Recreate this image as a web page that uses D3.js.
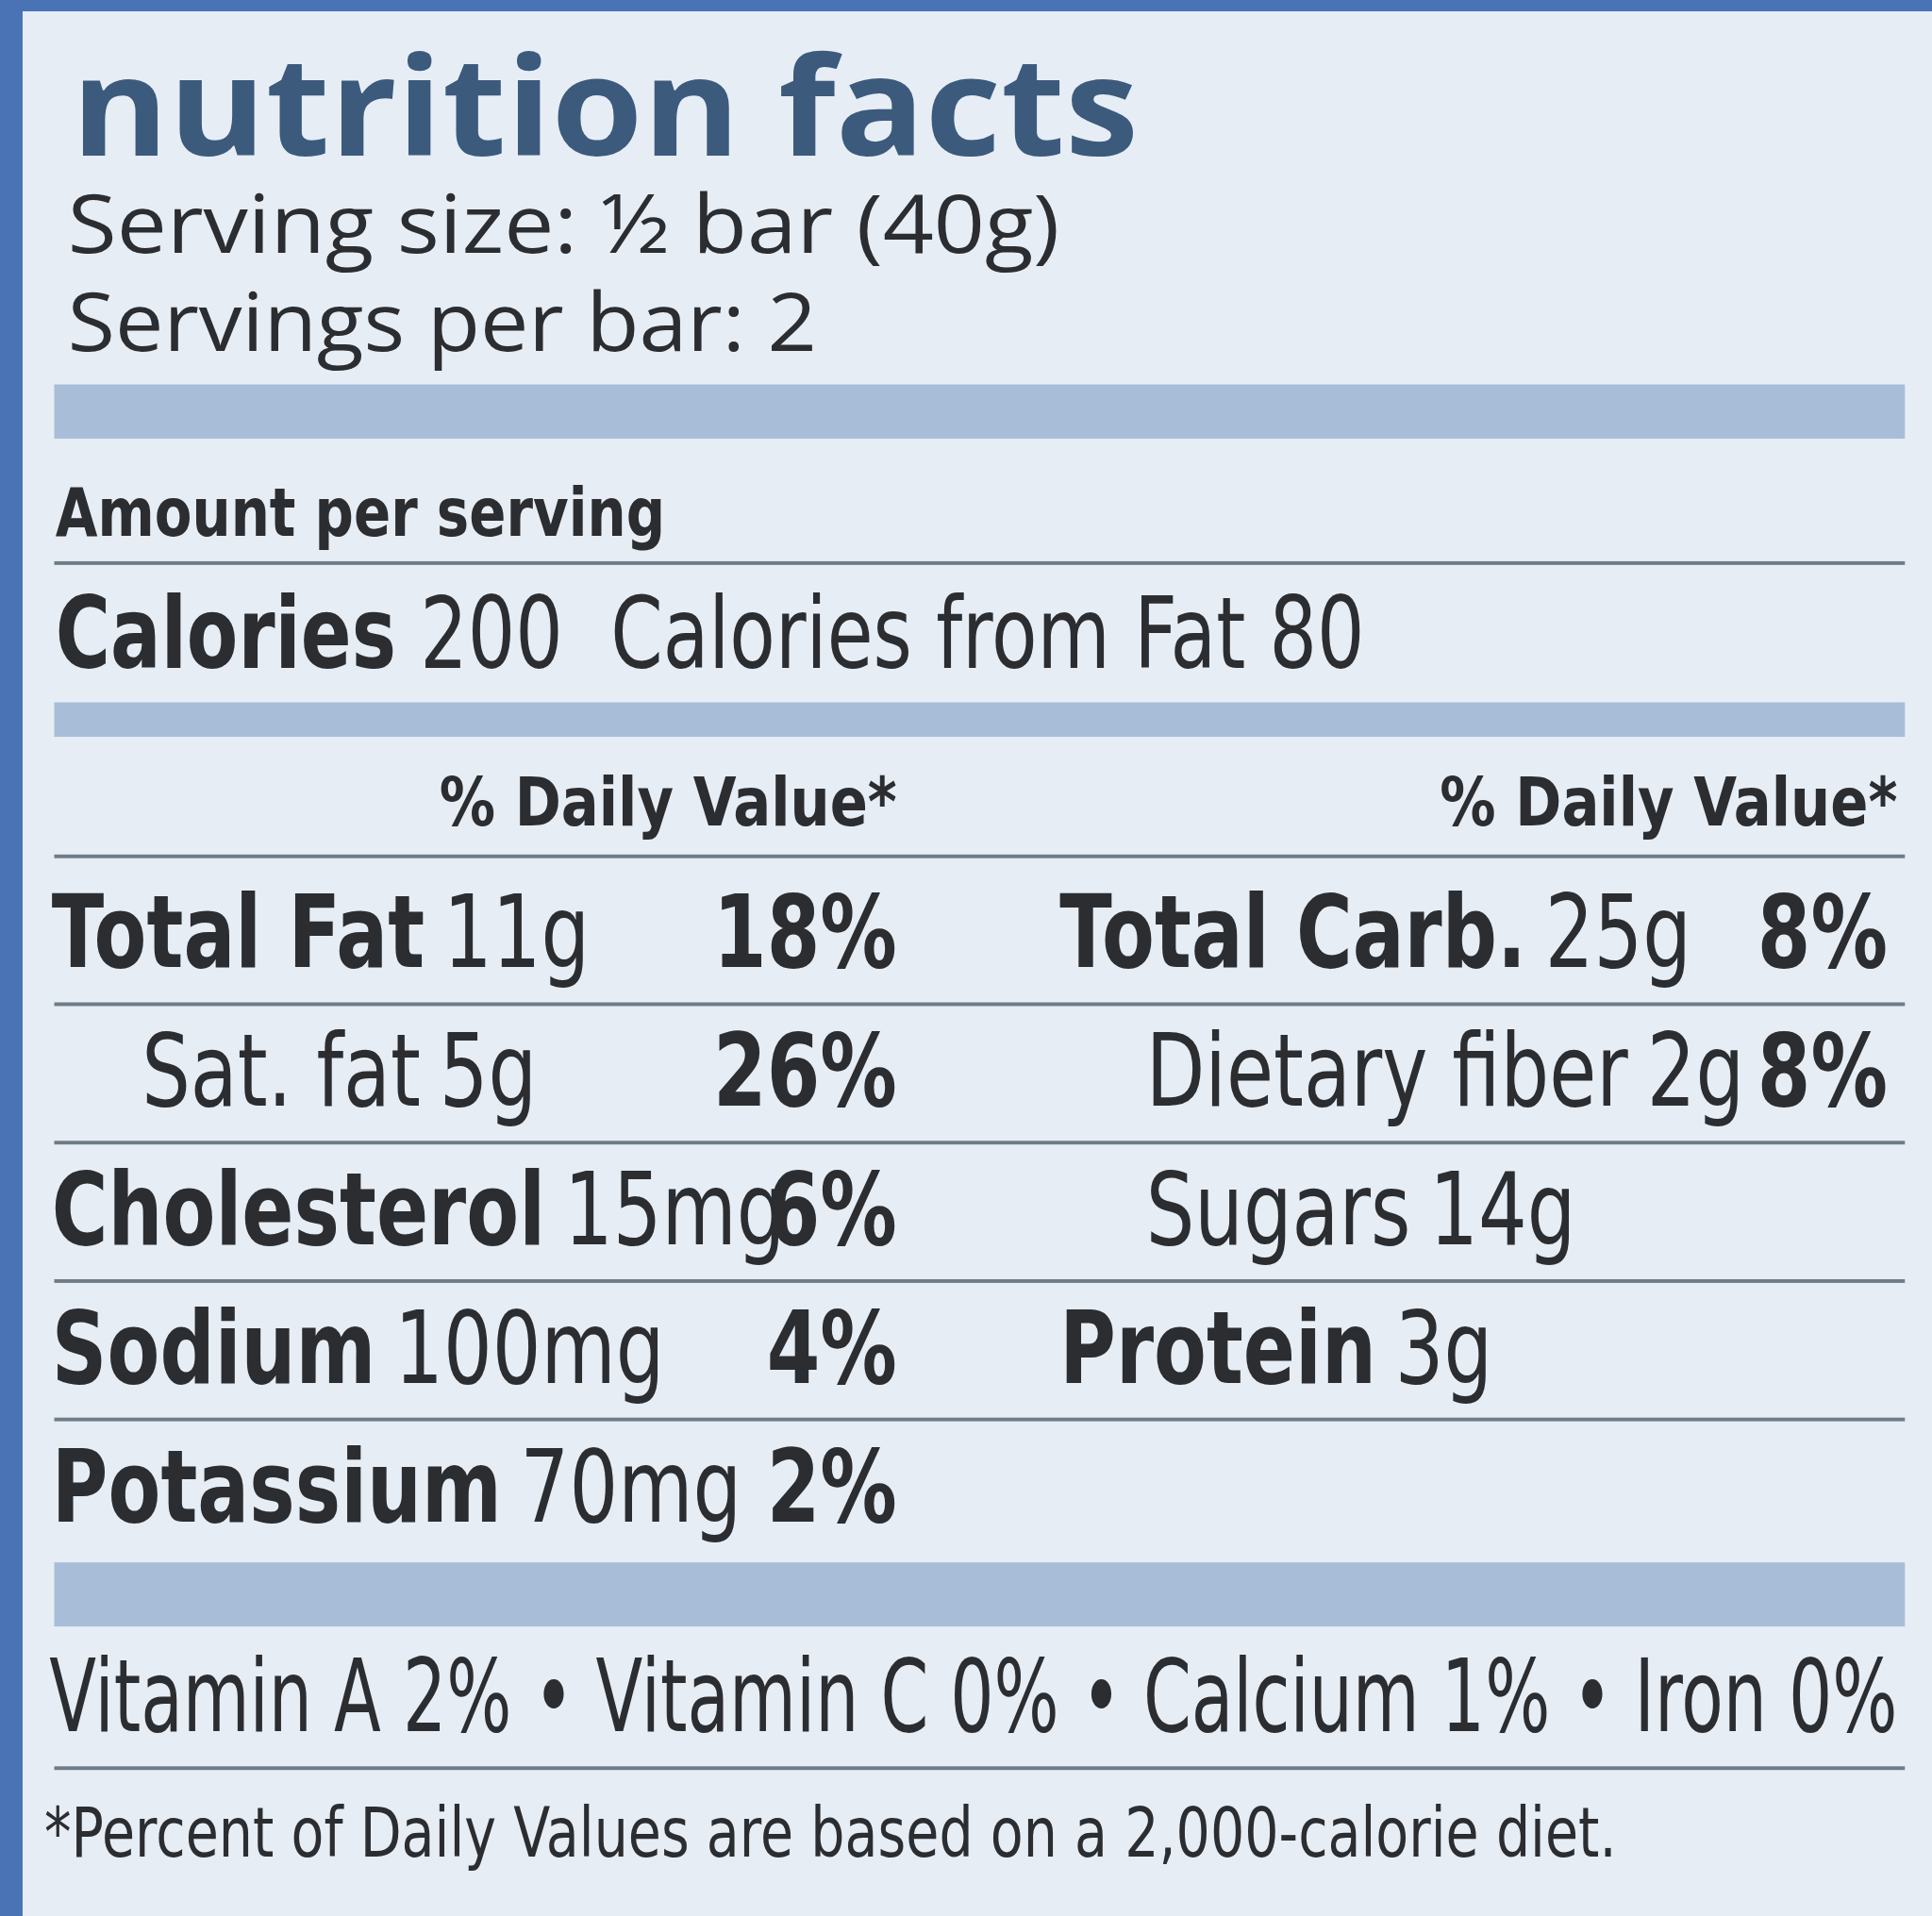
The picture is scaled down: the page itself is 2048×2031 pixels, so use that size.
<!DOCTYPE html>
<html><head><meta charset="utf-8">
<script src="https://cdn.jsdelivr.net/npm/d3@7"></script>
<style>body{margin:0;background:#e6edf5}svg{display:block}</style>
</head><body>
<script>
const title = "nutrition facts";
const servingLines = ["Serving size: ½ bar (40g)", "Servings per bar: 2"];
const caloriesRow = [["Calories", " 200"], ["", "  Calories from Fat 80"]];
const leftNames = ["Total Fat", "Sat. fat", "Cholesterol", "Sodium", "Potassium"];
const leftAmounts = ["11g", "5g", "15mg", "100mg", "70mg"];
const leftPct = ["18%", "26%", "6%", "4%", "2%"];
const leftBold = [true, false, true, true, true];
const leftIndent = [false, true, false, false, false];
const rightNames = ["Total Carb.", "Dietary fiber", "Sugars", "Protein", ""];
const rightAmounts = ["25g", "2g", "14g", "3g", ""];
const rightPct = ["8%", "8%", "", "", ""];
const rightBold = [true, false, false, true, false];
const rightIndent = [false, true, true, false, false];
const vitaminLine = "Vitamin A 2% • Vitamin C 0% • Calcium 1% • Iron 0%";
const footnote = "*Percent of Daily Values are based on a 2,000-calorie diet.";

const W = 2048, H = 2031, k = 2048 / 1568;
const svg = d3.select("body").append("svg").attr("width", W).attr("height", H);
svg.append("rect").attr("width", W).attr("height", H).attr("fill", "#e6edf5");
svg.append("rect").attr("width", W).attr("height", 12).attr("fill", "#4a73b5");
svg.append("rect").attr("width", 24).attr("height", H).attr("fill", "#4a73b5");
const g = svg.append("g").attr("transform", `scale(${k})`);
const font = "'DejaVu Sans',sans-serif";
const ink = "#2b2d30";
const sx = 0.76;
const rowY = d3.scaleLinear().domain([0, 4]).range([785, 1235]);
const lineY = d3.scaleLinear().domain([0, 3]).range([815, 1152]);

function squeezed(x, y, s) {
  return g.append("g").attr("transform", `translate(${x},${y}) scale(${s},1)`)
    .append("text").attr("font-family", font).attr("fill", ink);
}

g.append("text").attr("x", 58).attr("y", 126).text(title)
  .attr("font-family", "'Open Sans',sans-serif").attr("font-weight", 700)
  .attr("font-size", 112).attr("fill", "#3c5a7c")
  .attr("textLength", 866).attr("lengthAdjust", "spacingAndGlyphs");
g.selectAll(".srv").data(servingLines).join("text")
  .attr("x", 55).attr("y", (d, i) => 205 + i * 80).text(d => d)
  .attr("font-family", "'Open Sans',sans-serif").attr("font-size", 66).attr("fill", ink)
  .attr("textLength", (d, i) => i ? 608 : 805).attr("lengthAdjust", "spacingAndGlyphs");

const thick = [[312, 44], [570, 28], [1268, 52]];
g.selectAll(".thick").data(thick).join("rect")
  .attr("x", 44).attr("width", 1502).attr("y", d => d[0]).attr("height", d => d[1]).attr("fill", "#a8bed8");
const thin = [457, 695, 1435, ...d3.range(4).map(lineY)];
g.selectAll(".thin").data(thin).join("rect")
  .attr("x", 44).attr("width", 1502).attr("y", d => d - 1.5).attr("height", 3).attr("fill", "#6f7c88");

squeezed(45, 435, 0.82).text("Amount per serving").attr("font-weight", 700).attr("font-size", 54);

const cal = squeezed(45, 542, sx).attr("font-size", 80).attr("xml:space", "preserve");
cal.append("tspan").attr("font-weight", 700).text(caloriesRow[0][0]);
cal.append("tspan").text(caloriesRow[0][1] + caloriesRow[1][1]);

[728, 1540].forEach(x => squeezed(x, 670, 0.84).attr("text-anchor", "end")
  .text("% Daily Value*").attr("font-weight", 700).attr("font-size", 54));

function col(names, amts, pcts, bold, indent, x0, xi, xp) {
  names.forEach((n, i) => {
    if (!n) return;
    const t = squeezed(indent[i] ? xi : x0, rowY(i), sx).attr("font-size", 82);
    t.append("tspan").attr("font-weight", bold[i] ? 700 : 400).text(n);
    t.append("tspan").attr("dx", 20).text(amts[i]);
    if (pcts[i]) squeezed(xp, rowY(i), sx).attr("text-anchor", "end")
      .text(pcts[i]).attr("font-weight", 700).attr("font-size", 82);
  });
}
col(leftNames, leftAmounts, leftPct, leftBold, leftIndent, 42, 115, 728);
col(rightNames, rightAmounts, rightPct, rightBold, rightIndent, 860, 930, 1532);

g.append("text").attr("x", 40).attr("y", 1405).text(vitaminLine)
  .attr("font-family", font).attr("font-size", 82).attr("fill", ink)
  .attr("textLength", 1500).attr("lengthAdjust", "spacingAndGlyphs");
g.append("text").attr("x", 36).attr("y", 1507).text(footnote)
  .attr("font-family", font).attr("font-size", 56).attr("fill", ink)
  .attr("textLength", 1276).attr("lengthAdjust", "spacingAndGlyphs");
</script>
</body></html>
